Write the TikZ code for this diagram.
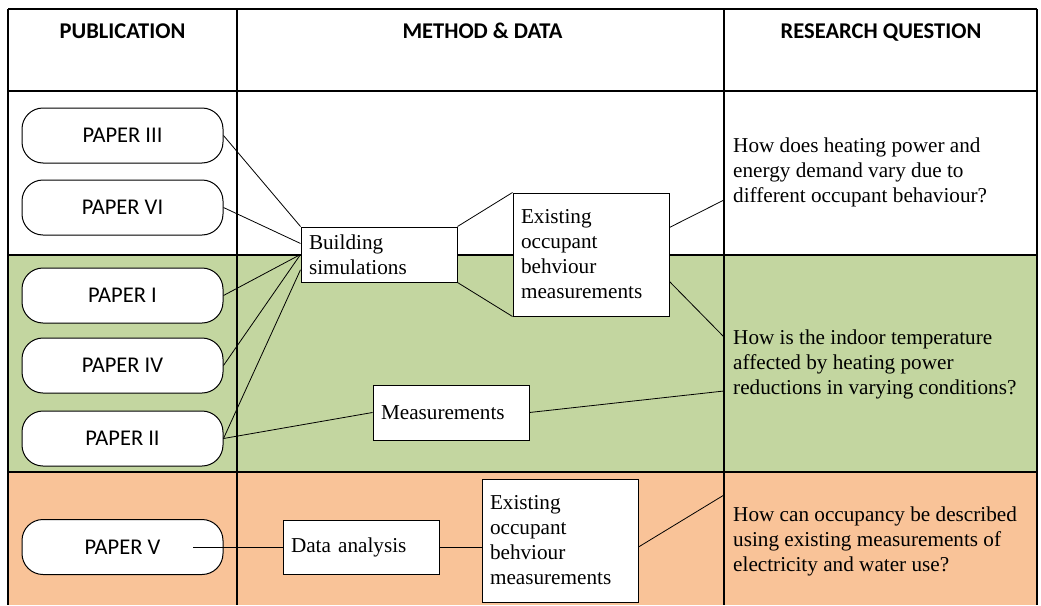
\documentclass[tikz,border=0pt]{standalone}
\usepackage{fontspec}
\setmainfont{Liberation Serif}
\newfontfamily\paperfont{Carlito}
\usetikzlibrary{calc,positioning}
\definecolor{rowgreen}{RGB}{195,214,160}
\definecolor{roworange}{RGB}{249,195,152}
\tikzset{%
	header/.style   = {anchor=base, font=\paperfont\bfseries\fontsize{22.5}{26}\selectfont}, % column title
	paper/.style    = {draw, rectangle, rounded corners=21pt, fill=white, line width=1pt, minimum width=201pt, minimum height=55pt, font=\paperfont\fontsize{22.5}{26}\selectfont},
	method/.style   = {draw, rectangle, fill=white, line width=1pt, text width=140pt, inner xsep=8pt, align=left, font=\fontsize{21.2}{25}\selectfont},
	question/.style = {anchor=west, align=left, inner sep=0pt, font=\fontsize{21.2}{25}\selectfont},
	grid/.style     = {line width=1.2pt},
	link/.style     = {line width=0.8pt},
}
\begin{document}
\begin{tikzpicture}[x=1pt,y=-1pt,node distance=16pt]
	\useasboundingbox (0,0) rectangle (1041,605);
	% row colours and table
	\fill[rowgreen] (8,255) rectangle (1037,472);
	\fill[roworange] (8,472) rectangle (1037,605);
	\foreach \y in {9,91,255,472}
		\draw[grid] (8,\y) -- (1037,\y);
	\foreach \x in {8,237,724,1037}
		\draw[grid] (\x,9) -- (\x,605);
	
	\node [header] (hpub) at (122.5,38) {PUBLICATION};
	\node [header] (hmeth) at (482.5,38) {METHOD \& DATA};
	\node [header] (hrq) at (881,38) {RESEARCH QUESTION};
	
	% publications
	\node [paper] (p3) at (122.5,135.5) {PAPER III};
	\node [paper] (p6) [below=16pt of p3] {PAPER VI};
	\node [paper] (p1) [below=32pt of p6] {PAPER I};
	\node [paper] (p4) [below=14pt of p1] {PAPER IV};
	\node [paper] (p2) [below=17pt of p4] {PAPER II};
	\node [paper] (p5) at (122.5,547) {PAPER V};
	
	% methods and data
	\node [method,minimum height=55pt] (bsim) at (379,254.5) {Building\\simulations};
	\node [method,minimum height=123pt] (exist1) [right=55pt of bsim] {Existing\\occupant\\behviour\\measurements};
	\node [method,minimum height=55pt] (meas) at (451,412.5) {Measurements};
	\node [method,minimum height=54pt] (dana) at (361,547) {Data analysis};
	\node [method,minimum height=123pt] (exist2) at (560,540.5) {Existing\\occupant\\behviour\\measurements};
	
	% research questions
	\node [question] (rq1) at (733,172.5) {How does heating power and\\energy demand vary due to\\different occupant behaviour?};
	\node [question] (rq2) at (733,364) {How is the indoor temperature\\affected by heating power\\reductions in varying conditions?};
	\node [question] (rq3) at (733,541.5) {How can occupancy be described\\using existing measurements of\\electricity and water use?};
	\coordinate (q1) at (724,200);
	\coordinate (q2a) at (724,337);
	\coordinate (q2b) at (724,391);
	\coordinate (q3) at (724,495);
	\coordinate (p5in) at (193,547);
	
	\draw[link] (p3.east) -- (bsim.north west);
	\draw[link] (p6.east) -- (bsim.172);
	\draw[link] (p1.east) -- (bsim.west);
	\draw[link] (p4.east) -- (bsim.west);
	\draw[link] (p2.east) -- (bsim.191);
	\draw[link] (p2.east) -- (meas.west);
	\draw[link] (bsim.north east) -- (exist1.north west);
	\draw[link] (bsim.south east) -- (exist1.south west);
	\draw[link] (exist1.19) -- (q1);
	\draw[link] (exist1.341) -- (q2a);
	\draw[link] (meas.east) -- (q2b);
	\draw[link] (p5in) -- (dana.west);
	\draw[link] (dana.east) -- (dana.east -| exist2.west);
	\draw[link] (exist2.east |- dana.east) -- (q3);
\end{tikzpicture}
\end{document}
